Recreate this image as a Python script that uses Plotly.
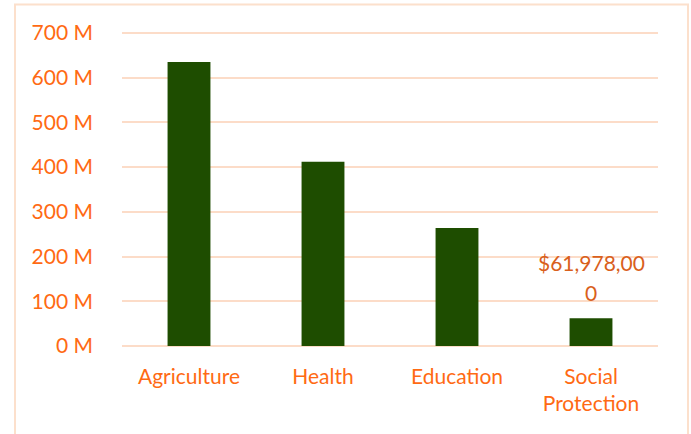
import plotly.graph_objects as go

categories = ["Agriculture", "Health", "Education", "Social<br>Protection"]
values_m = [635, 412, 264, 61.978]
bar_labels = ["", "", "", "$61,978,00<br>0"]
tick_vals = [0, 100, 200, 300, 400, 500, 600, 700]
tick_text = ["0 M", "100 M", "200 M", "300 M", "400 M", "500 M", "600 M", "700 M"]

orange = "#FF6A13"
label_orange = "#D9601C"
grid = "#FCDCC8"
bar_color = "#1E4D00"
font_family = "Lato, 'Open Sans', sans-serif"
fs = 21

W, H = 691, 434
y_top = 720
ml, mr, mb = 122, 691 - 658, 434 - 346
ph = 313 * y_top / 700
mt = H - mb - ph
pw = W - ml - mr

def px_x(x):
    return (x - ml) / pw

def px_y(y):
    return (H - mb - y) / ph

fig = go.Figure(go.Bar(
    x=categories, y=values_m, marker_color=bar_color,
    marker_line_width=0, width=0.32,
))

annotations = []
for cat, val, lab in zip(categories, values_m, bar_labels):
    if not lab:
        continue
    lines = lab.split("<br>")
    n = len(lines)
    for i, line in enumerate(lines):
        annotations.append(dict(
            x=cat, y=val, xref="x", yref="y", text=line, showarrow=False,
            yanchor="middle", xanchor="center", yshift=26 + 30 * (n - 1 - i),
            font=dict(color=label_orange, size=fs, family=font_family),
        ))

fig.update_layout(
    width=W, height=H,
    margin=dict(l=ml, r=mr, t=mt, b=mb, pad=0),
    paper_bgcolor="white", plot_bgcolor="white",
    showlegend=False,
    font=dict(family=font_family, size=fs, color=orange),
    xaxis=dict(showgrid=False, showline=False, ticks="", ticklabelstandoff=16,
               tickfont=dict(color=orange, size=fs)),
    yaxis=dict(range=[0, y_top], tickvals=tick_vals, ticktext=tick_text,
               showgrid=True, gridcolor=grid, gridwidth=2, zeroline=True,
               zerolinecolor=grid, zerolinewidth=2, showline=False, ticks="",
               ticklabelstandoff=28, tickfont=dict(color=orange, size=fs)),
    annotations=annotations,
    shapes=[dict(type="rect", xref="paper", yref="paper",
                 x0=px_x(15), x1=px_x(688), y0=px_y(450), y1=px_y(4.5),
                 line=dict(color="#FCE0CC", width=2), fillcolor="rgba(0,0,0,0)", layer="above")],
)

fig.write_html("out.html", config={"displayModeBar": False},
               post_script="document.body.style.margin='0px';")
